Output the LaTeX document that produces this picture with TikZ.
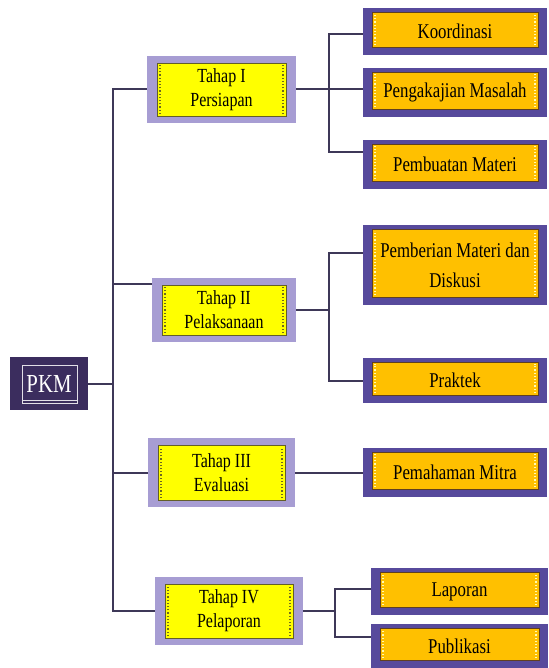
\documentclass[tikz,border=0pt]{standalone}
\usepackage{fontspec}
\setmainfont{Liberation Serif}[FakeStretch=0.8]
\definecolor{pkmc}{HTML}{3B2D5E}
\definecolor{outc}{HTML}{574A9C}
\definecolor{lavc}{HTML}{A79DD3}
\definecolor{yelc}{HTML}{FFFF00}
\definecolor{orac}{HTML}{FFC000}
\definecolor{linec}{HTML}{3E3858}
\tikzset{
  conn/.style={draw=linec, line width=2pt},
  childbox/.style={rectangle, fill=outc, inner sep=0pt, align=center,
    font=\fontsize{21}{25}\selectfont,
    path picture={
      \fill[orac, draw=brown!50!black, line width=0.6pt]
        ([xshift=9pt,yshift=8pt]path picture bounding box.south west) rectangle
        ([xshift=-9pt,yshift=-4pt]path picture bounding box.north east);
      \draw[yellow!30!white, dotted, line width=1.2pt]
        ([xshift=12pt,yshift=10pt]path picture bounding box.south west) --
        ([xshift=12pt,yshift=-6pt]path picture bounding box.north west);
      \draw[yellow!30!white, dotted, line width=1.2pt]
        ([xshift=-12pt,yshift=10pt]path picture bounding box.south east) --
        ([xshift=-12pt,yshift=-6pt]path picture bounding box.north east);
    }},
  stagebox/.style={rectangle, fill=lavc, inner sep=0pt, align=center,
    font=\fontsize{20}{24}\selectfont,
    path picture={
      \fill[yelc, draw=olive!60!black, line width=0.6pt]
        ([xshift=10pt,yshift=7pt]path picture bounding box.south west) rectangle
        ([xshift=-10pt,yshift=-7pt]path picture bounding box.north east);
      \draw[olive!70!black, dotted, line width=1.2pt]
        ([xshift=13pt,yshift=9pt]path picture bounding box.south west) --
        ([xshift=13pt,yshift=-9pt]path picture bounding box.north west);
      \draw[olive!70!black, dotted, line width=1.2pt]
        ([xshift=-13pt,yshift=9pt]path picture bounding box.south east) --
        ([xshift=-13pt,yshift=-9pt]path picture bounding box.north east);
    }},
  rootbox/.style={rectangle, fill=pkmc, inner sep=0pt, align=center, text=white,
    font=\fontsize{26}{30}\selectfont,
    path picture={
      \draw[white!85!pkmc, line width=0.8pt]
        ([xshift=12pt,yshift=7pt]path picture bounding box.south west) rectangle
        ([xshift=-11pt,yshift=-8pt]path picture bounding box.north east);
      \draw[white!85!pkmc, line width=0.6pt]
        ([xshift=12pt,yshift=10pt]path picture bounding box.south west) --
        ([xshift=-11pt,yshift=10pt]path picture bounding box.south east);
    }}
}
\begin{document}
\begin{tikzpicture}[x=1pt, y=-1pt]
\useasboundingbox (0,0) rectangle (548,668);
% root
\node[rootbox, minimum width=78pt, minimum height=53pt] (pkm) at (49,383.5) {PKM};
% stages
\node[stagebox, minimum width=149pt, minimum height=67pt] (t1) at (221.5,89.5) {Tahap I\\Persiapan};
\node[stagebox, minimum width=144pt, minimum height=64pt] (t2) at (224,310) {Tahap II\\Pelaksanaan};
\node[stagebox, minimum width=147pt, minimum height=69pt] (t3) at (221.5,472.5) {Tahap III\\Evaluasi};
\node[stagebox, minimum width=148pt, minimum height=68pt] (t4) at (229,611) {Tahap IV\\Pelaporan};
% children
\node[childbox, minimum width=184pt, minimum height=47pt] (c1) at (455,31.5) {Koordinasi};
\node[childbox, minimum width=184pt, minimum height=49pt] (c2) at (455,92.5) {Pengakajian Masalah};
\node[childbox, minimum width=184pt, minimum height=49pt] (c3) at (455,164.5) {Pembuatan Materi};
\node[childbox, minimum width=184pt, minimum height=80pt] (c4) at (455,265) {Pemberian Materi dan\\[5pt]Diskusi};
\node[childbox, minimum width=184pt, minimum height=45pt] (c5) at (455,380.5) {Praktek};
\node[childbox, minimum width=184pt, minimum height=49pt] (c6) at (455,472.5) {Pemahaman Mitra};
\node[childbox, minimum width=177pt, minimum height=47pt] (c7) at (459.5,591.5) {Laporan};
\node[childbox, minimum width=177pt, minimum height=44pt] (c8) at (459.5,646) {Publikasi};
% junction x positions
\coordinate (jx) at (113,0);
\coordinate (k1) at (329,0);
\coordinate (k2) at (329,0);
\coordinate (k4) at (335,0);
% trunk
\draw[conn] (t1.west) -- (t1.west -| jx) -- (t4.west -| jx) -- (t4.west);
\draw[conn] (pkm.east) -- (pkm.east -| jx);
\draw[conn] ([yshift=26pt]t2.west) -- ([yshift=26pt]t2.west -| jx);
\draw[conn] (t3.west) -- (t3.west -| jx);
% stage I
\draw[conn] (t1.east) -- (t1.east -| c2.west);
\draw[conn] ([yshift=-3pt]c1.west) -- ([yshift=-3pt]c1.west -| k1) -- ([yshift=12pt]c3.west -| k1) -- ([yshift=12pt]c3.west);
% stage II
\draw[conn] (t2.east) -- (t2.east -| k2);
\draw[conn] ([yshift=12pt]c4.west) -- ([yshift=12pt]c4.west -| k2) -- (c5.west -| k2) -- (c5.west);
% stage III
\draw[conn] (t3.east) -- (c6.west);
% stage IV
\draw[conn] (t4.east) -- (t4.east -| k4);
\draw[conn] ([yshift=3pt]c7.west) -- ([yshift=3pt]c7.west -| k4) -- ([yshift=9pt]c8.west -| k4) -- ([yshift=9pt]c8.west);
\end{tikzpicture}
\end{document}
